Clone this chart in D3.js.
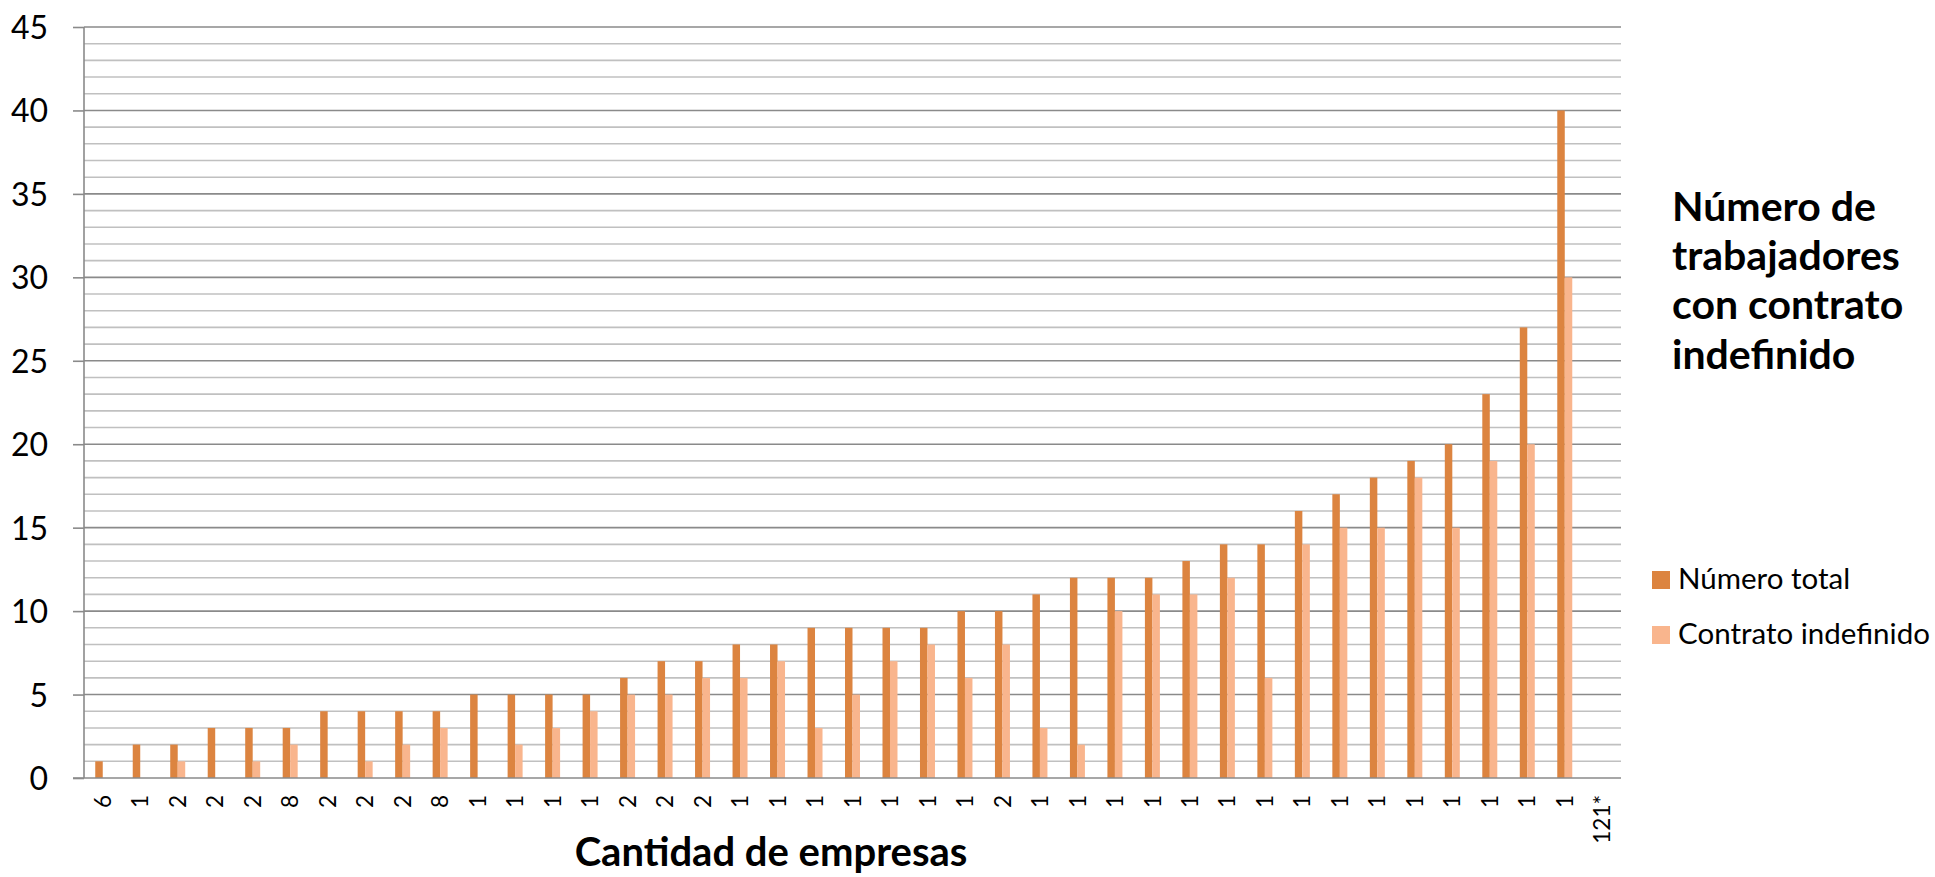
<!DOCTYPE html>
<html>
<head>
<meta charset="utf-8">
<script src="https://cdn.jsdelivr.net/npm/d3@7"></script>
<style>
  html, body { margin: 0; padding: 0; background: #ffffff; }
  svg { display: block; font-family: Lato, "Open Sans", sans-serif; }
</style>
</head>
<body>
<svg id="chart" width="1935" height="877"></svg>
<script>
// ---- data ----
const categories = ["6","1","2","2","2","8","2","2","2","8","1","1","1","1","2","2","2","1","1","1","1","1","1","1","2","1","1","1","1","1","1","1","1","1","1","1","1","1","1","1","121*"];
const numeroTotal = [1,2,2,3,3,3,4,4,4,4,5,5,5,5,6,7,7,8,8,9,9,9,9,10,10,11,12,12,12,13,14,14,16,17,18,19,20,23,27,40,null];
const contratoIndefinido = [0,0,1,0,1,2,0,1,2,3,0,2,3,4,5,5,6,6,7,3,5,7,8,6,8,3,2,10,11,11,12,6,14,15,15,18,15,19,20,30,null];
const seriesNames = ["Número total", "Contrato indefinido"];
const seriesColors = ["#DC8440", "#F9B58D"];
const yTicks = [0,5,10,15,20,25,30,35,40,45];
const legendTitle = ["Número de", "trabajadores", "con contrato", "indefinido"];
const xTitle = "Cantidad de empresas";

// ---- layout ----
const svg = d3.select("#chart");
const pLeft = 84, pRight = 1621, pTop = 27, pBottom = 778;
const majorColor = "#8a8a8a", minorColor = "#c0c0c0";

const x0 = d3.scaleBand().domain(d3.range(categories.length)).range([pLeft, pRight]).paddingInner(0).paddingOuter(0);
const gapWidth = 1.5;
const groupW = x0.bandwidth() / (1 + gapWidth);
const x1 = d3.scaleBand().domain(seriesNames)
  .range([(x0.bandwidth() - groupW) / 2, (x0.bandwidth() + groupW) / 2]);
const y = d3.scaleLinear().domain([0, 45]).range([pBottom, pTop]);

// minor gridlines
const minor = d3.range(1, 45).filter(v => v % 5 !== 0);
svg.append("g").selectAll("line").data(minor).join("line")
  .attr("x1", pLeft).attr("x2", pRight)
  .attr("y1", d => y(d)).attr("y2", d => y(d))
  .attr("stroke", minorColor).attr("stroke-width", 1.6);

// major gridlines
svg.append("g").selectAll("line").data(yTicks.filter(v => v > 0)).join("line")
  .attr("x1", pLeft).attr("x2", pRight)
  .attr("y1", d => y(d)).attr("y2", d => y(d))
  .attr("stroke", majorColor).attr("stroke-width", 1.6);

// bars
const rows = categories.map((c, i) => ({ i, vals: [numeroTotal[i], contratoIndefinido[i]] }));
const groups = svg.append("g").selectAll("g").data(rows).join("g")
  .attr("transform", d => `translate(${x0(d.i)},0)`);
groups.selectAll("rect")
  .data(d => d.vals.map((v, k) => ({ k, v })).filter(e => e.v !== null && e.v > 0))
  .join("rect")
  .attr("x", e => x1(seriesNames[e.k]))
  .attr("width", x1.bandwidth())
  .attr("y", e => y(e.v))
  .attr("height", e => y(0) - y(e.v))
  .attr("fill", e => seriesColors[e.k]);

// y axis
const yAxis = d3.axisLeft(y).tickValues(yTicks).tickSize(11).tickPadding(25);
const gy = svg.append("g").attr("transform", `translate(${pLeft},0)`).call(yAxis);
gy.select(".domain").attr("stroke", majorColor).attr("stroke-width", 1.6).attr("d", `M0,${pTop}V${pBottom}`);
gy.selectAll(".tick line").attr("stroke", majorColor).attr("stroke-width", 1.6);
gy.selectAll(".tick text").attr("font-size", 32).attr("fill", "#000").attr("font-family", "Lato").attr("dy", "0.36em");

// x axis
const xAxis = d3.axisBottom(x0).tickSize(0).tickFormat(i => categories[i]);
const gx = svg.append("g").attr("transform", `translate(0,${pBottom})`).call(xAxis);
gx.select(".domain").attr("stroke", majorColor).attr("stroke-width", 1.6).attr("d", `M${pLeft - 11},0H${pRight}`);
gx.selectAll(".tick text")
  .attr("font-size", 22.5).attr("fill", "#000").attr("font-family", "Lato")
  .attr("text-anchor", "end")
  .attr("transform", "rotate(-90)")
  .attr("x", -17).attr("y", 0).attr("dy", "0.36em");

// x title
svg.append("text").attr("x", 771).attr("y", 866)
  .attr("text-anchor", "middle").attr("font-size", 40).attr("font-weight", "bold")
  .attr("fill", "#000").text(xTitle);

// legend title
svg.append("g").selectAll("text").data(legendTitle).join("text")
  .attr("x", 1672).attr("y", (d, i) => 221 + i * 49.2)
  .attr("font-size", 41).attr("font-weight", "bold").attr("fill", "#000")
  .text(d => d);

// legend
const leg = svg.append("g").selectAll("g").data(seriesNames).join("g")
  .attr("transform", (d, i) => `translate(1652,${571 + i * 55})`);
leg.append("rect").attr("width", 18).attr("height", 18).attr("fill", (d, i) => seriesColors[i]);
leg.append("text").attr("x", 26).attr("y", 18).attr("font-size", 29.5).attr("fill", "#000").text(d => d);
</script>
</body>
</html>
